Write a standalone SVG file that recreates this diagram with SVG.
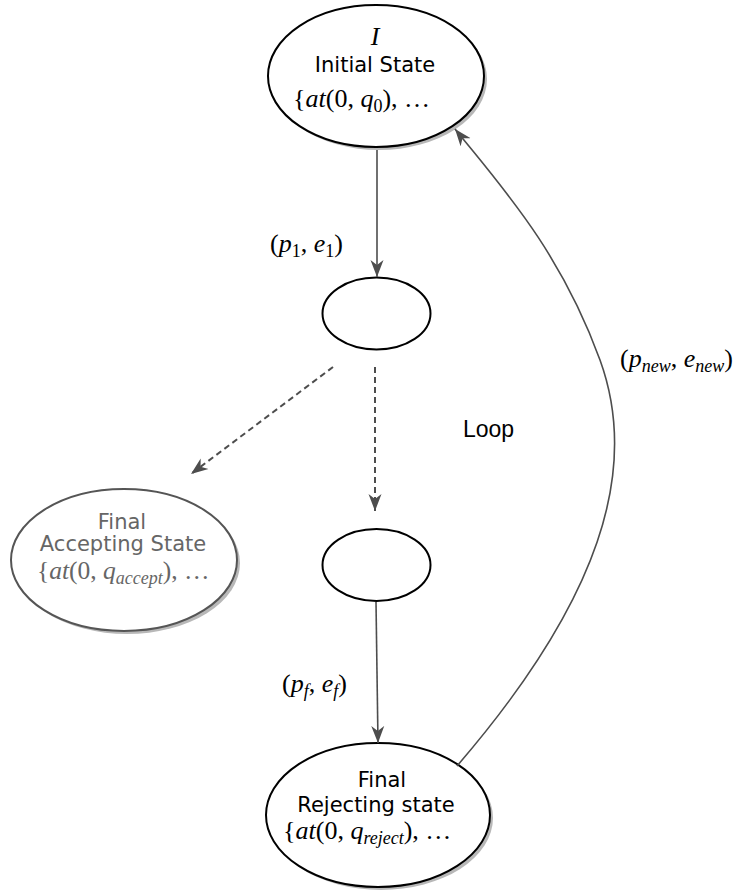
<svg xmlns="http://www.w3.org/2000/svg" width="746" height="894" viewBox="0 0 746 894">
<defs>
<marker id="arr" markerUnits="userSpaceOnUse" markerWidth="20" markerHeight="14" refX="17" refY="7" orient="auto"><path d="M0,0.5 L17,7 L0,13.5 L5,7 z" fill="#4d4d4d"/></marker>
</defs>
<style>
.node{fill:#fff;stroke:#000;stroke-width:2}
.gray{stroke:#555}
.shadow{fill:#b8b8b8;stroke:none}
.sans{font-family:"DejaVu Sans",Verdana,sans-serif;font-size:21px;fill:#000}
.math{font-family:"Liberation Serif","Times New Roman",serif;font-size:26px;fill:#000}
.it{font-style:italic}
.sub{font-size:18px}
.gtext{fill:#666}
.conn{fill:none;stroke:#4d4d4d;stroke-width:1.6}
.dash{stroke-dasharray:6 4;stroke-width:2}
</style>
<rect width="746" height="894" fill="#fff"/>

<g id="initial">
<ellipse class="shadow" cx="379" cy="79" rx="108" ry="71"/>
<ellipse class="node" cx="376" cy="76" rx="108" ry="71"/>
<text class="math it" x="375" y="45" text-anchor="middle">I</text>
<text class="sans" x="375" y="72" text-anchor="middle">Initial State</text>
<text class="math" x="293" y="107">{<tspan class="it">at</tspan>(0, <tspan class="it">q</tspan><tspan class="sub" dy="5">0</tspan><tspan dy="-5">), …</tspan></text>
</g>

<g id="mid1">
<ellipse class="node" cx="376.5" cy="313.5" rx="54" ry="36"/>
</g>

<g id="mid2">
<ellipse class="node" cx="376.5" cy="565" rx="54" ry="36"/>
</g>

<g id="accepting">
<ellipse class="shadow" cx="127" cy="563" rx="113" ry="71"/>
<ellipse class="node gray" cx="124" cy="560" rx="113" ry="71"/>
<text class="sans gtext" x="122" y="529" text-anchor="middle">Final</text>
<text class="sans gtext" x="123" y="551" text-anchor="middle">Accepting State</text>
<text class="math gtext" x="37" y="579" style="font-size:25.5px">{<tspan class="it">at</tspan>(0, <tspan class="it">q</tspan><tspan class="sub it" dy="5">accept</tspan><tspan dy="-5">), …</tspan></text>
</g>

<g id="rejecting">
<ellipse class="shadow" cx="381" cy="818" rx="112" ry="72"/>
<ellipse class="node" cx="378" cy="815" rx="112" ry="72"/>
<text class="sans" x="382" y="787" text-anchor="middle">Final</text>
<text class="sans" x="376" y="812" text-anchor="middle">Rejecting state</text>
<text class="math" x="283" y="839">{<tspan class="it">at</tspan>(0, <tspan class="it">q</tspan><tspan class="sub it" dy="5">reject</tspan><tspan dy="-5">), …</tspan></text>
</g>

<g id="connectors">
<line class="conn" x1="377" y1="150" x2="377" y2="277" marker-end="url(#arr)"/>
<line class="conn dash" x1="333" y1="367" x2="191" y2="474" marker-end="url(#arr)"/>
<line class="conn dash" x1="375" y1="367" x2="375" y2="511" marker-end="url(#arr)"/>
<line class="conn" x1="376" y1="602" x2="378" y2="743" marker-end="url(#arr)"/>
<path class="conn" d="M457,766 C600,600 640,470 600,360 C560,250 500,185 455,129" marker-end="url(#arr)"/>
</g>

<g id="labels">
<text class="math" x="270" y="252">(<tspan class="it">p</tspan><tspan class="sub" dy="5">1</tspan><tspan dy="-5">, </tspan><tspan class="it">e</tspan><tspan class="sub" dy="5">1</tspan><tspan dy="-5">)</tspan></text>
<text class="math" x="282" y="692">(<tspan class="it">p</tspan><tspan class="sub it" dy="5">f</tspan><tspan dy="-5">, </tspan><tspan class="it">e</tspan><tspan class="sub it" dy="5">f</tspan><tspan dy="-5">)</tspan></text>
<text class="math" x="620" y="367">(<tspan class="it">p</tspan><tspan class="sub it" dy="5">new</tspan><tspan dy="-5">, </tspan><tspan class="it">e</tspan><tspan class="sub it" dy="5">new</tspan><tspan dy="-5">)</tspan></text>
<text x="463" y="437" style="font-family:'Liberation Sans',Arial,sans-serif;font-size:23px">Loop</text>
</g>
</svg>
